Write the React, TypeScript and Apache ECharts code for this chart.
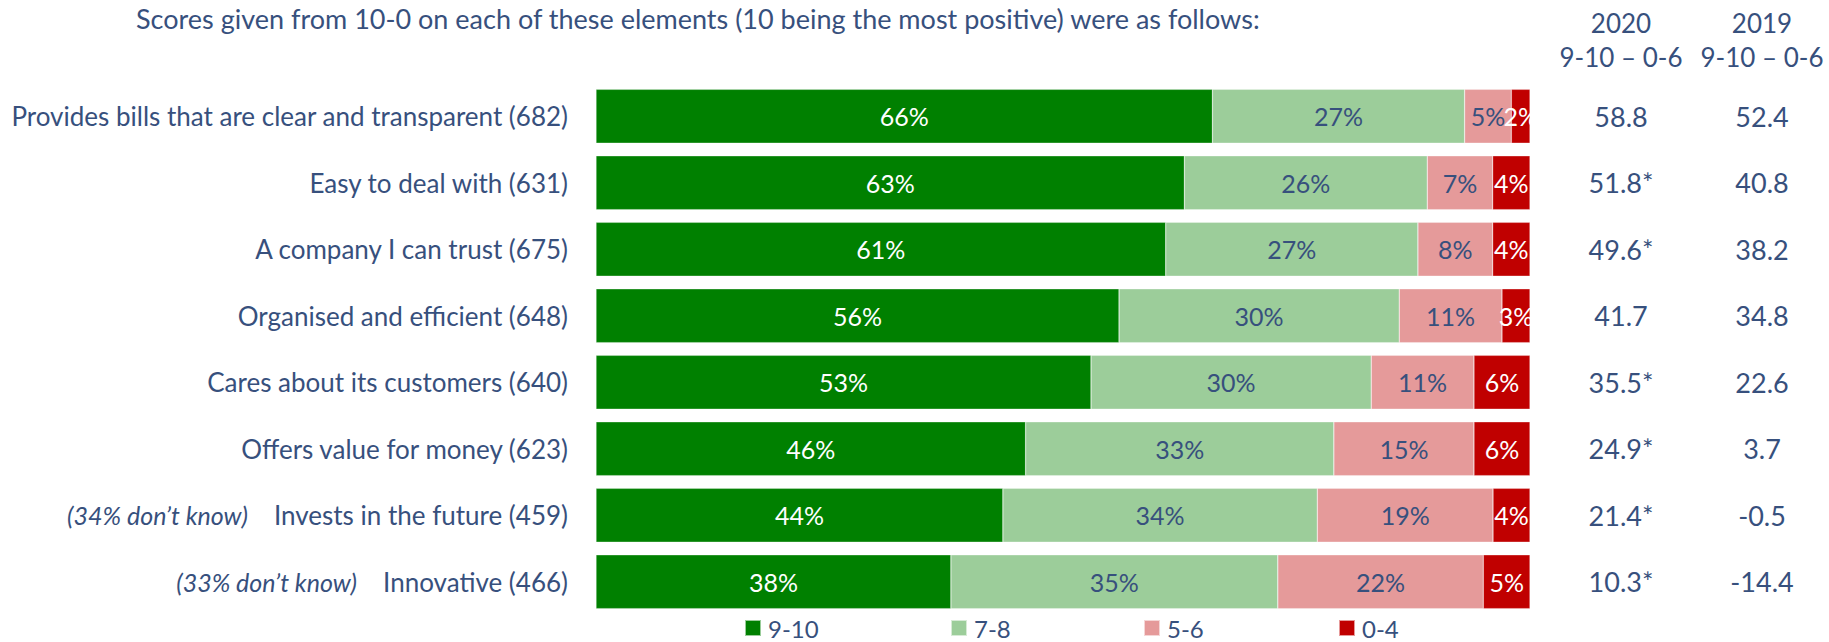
import React, { useEffect, useRef } from "react";
import * as echarts from "echarts";

const titleText =
  "Scores given from 10-0 on each of these elements (10 being the most positive) were as follows:";
const categories = [
  "Provides bills that are clear and transparent (682)",
  "Easy to deal with (631)",
  "A company I can trust (675)",
  "Organised and efficient (648)",
  "Cares about its customers (640)",
  "Offers value for money (623)",
  "Invests in the future (459)",
  "Innovative (466)",
];
const dontKnow = ["", "", "", "", "", "", "(34% don\u2019t know)", "(33% don\u2019t know)"];
const seriesNames = ["9-10", "7-8", "5-6", "0-4"];
const score910 = [66, 63, 61, 56, 53, 46, 44, 38];
const score78 = [27, 26, 27, 30, 30, 33, 34, 35];
const score56 = [5, 7, 8, 11, 11, 15, 19, 22];
const score04 = [2, 4, 4, 3, 6, 6, 4, 5];
const headers2020 = ["2020", "9-10 \u2013 0-6"];
const headers2019 = ["2019", "9-10 \u2013 0-6"];
const net2020 = ["58.8", "51.8*", "49.6*", "41.7", "35.5*", "24.9*", "21.4*", "10.3*"];
const net2019 = ["52.4", "40.8", "38.2", "34.8", "22.6", "3.7", "-0.5", "-14.4"];

const TEXT = "#37507d";
const FONT = "Lato";
const colors = ["#008000", "#9ccd9a", "#e59a9a", "#c00000"];
const labelColors = ["#ffffff", TEXT, TEXT, "#ffffff"];
const legendLefts = [744, 950, 1143, 1338];

export default function App() {
  const ref = useRef<HTMLDivElement>(null);
  useEffect(() => {
    if (!ref.current) return;
    const chart = echarts.init(ref.current, null, { renderer: "svg" });
    const all = [score910, score78, score56, score04];
    const sums = categories.map((_, i) => all.reduce((s, a) => s + a[i], 0));
    const series = all.map((arr, k) => ({
      name: seriesNames[k],
      type: "bar",
      stack: "total",
      yAxisIndex: 0,
      barCategoryGap: "19%",
      itemStyle: { color: colors[k], borderColor: "rgba(255,255,255,0.6)", borderWidth: 0.5 },
      label: {
        show: true,
        position: "inside",
        color: labelColors[k],
        fontFamily: FONT,
        fontSize: 25,
        formatter: (p: any) => `${arr[p.dataIndex]}%`,
      },
      data: arr.map((v, i) => (v / sums[i]) * 100),
    }));
    const headerGraphic = (lines: string[], cx: number) =>
      lines.map((t, j) => ({
        type: "text",
        x: cx,
        y: 23 + j * 34,
        style: {
          text: t,
          fill: TEXT,
          font: `26px ${FONT}`,
          align: "center",
          verticalAlign: "middle",
        },
      }));
    const numLabel = {
      margin: 91,
      align: "center",
      color: TEXT,
      fontFamily: FONT,
      fontSize: 27,
    };
    chart.setOption({
      animation: false,
      grid: { left: 596, right: 299, top: 83, height: 532 },
      xAxis: { type: "value", min: 0, max: 100, show: false },
      yAxis: [
        {
          type: "category",
          data: categories,
          inverse: true,
          axisLine: { show: false },
          axisTick: { show: false },
          axisLabel: {
            margin: 28,
            color: TEXT,
            fontFamily: FONT,
            fontSize: 26,
            formatter: (v: string, i: number) =>
              dontKnow[i] ? `{i|${dontKnow[i]}}${v}` : v,
            rich: {
              i: {
                fontStyle: "italic",
                fontFamily: FONT,
                fontSize: 25,
                color: TEXT,
                padding: [0, 26, 0, 0],
              },
            },
          },
        },
        {
          type: "category",
          data: net2020,
          inverse: true,
          position: "right",
          offset: 0,
          axisLine: { show: false },
          axisTick: { show: false },
          axisLabel: numLabel,
        },
        {
          type: "category",
          data: net2019,
          inverse: true,
          position: "right",
          offset: 141,
          axisLine: { show: false },
          axisTick: { show: false },
          axisLabel: numLabel,
        },
      ],
      legend: seriesNames.map((n, i) => ({
        data: [n],
        left: legendLefts[i],
        top: 616,
        padding: 0,
        icon: "rect",
        itemWidth: 16,
        itemHeight: 16,
        itemGap: 7,
        textStyle: { color: TEXT, fontFamily: FONT, fontSize: 24, padding: [0, 0, 0, 2] },
      })),
      graphic: [
        {
          type: "text",
          x: 136,
          y: 18,
          style: { text: titleText, fill: TEXT, font: `27px ${FONT}`, verticalAlign: "middle" },
        },
        ...headerGraphic(headers2020, 1621),
        ...headerGraphic(headers2019, 1762),
      ],
      series,
    });
    return () => chart.dispose();
  }, []);
  return (
    <div
      ref={ref}
      style={{ position: "fixed", left: 0, top: 0, width: 1829, height: 642, background: "#fff" }}
    />
  );
}
